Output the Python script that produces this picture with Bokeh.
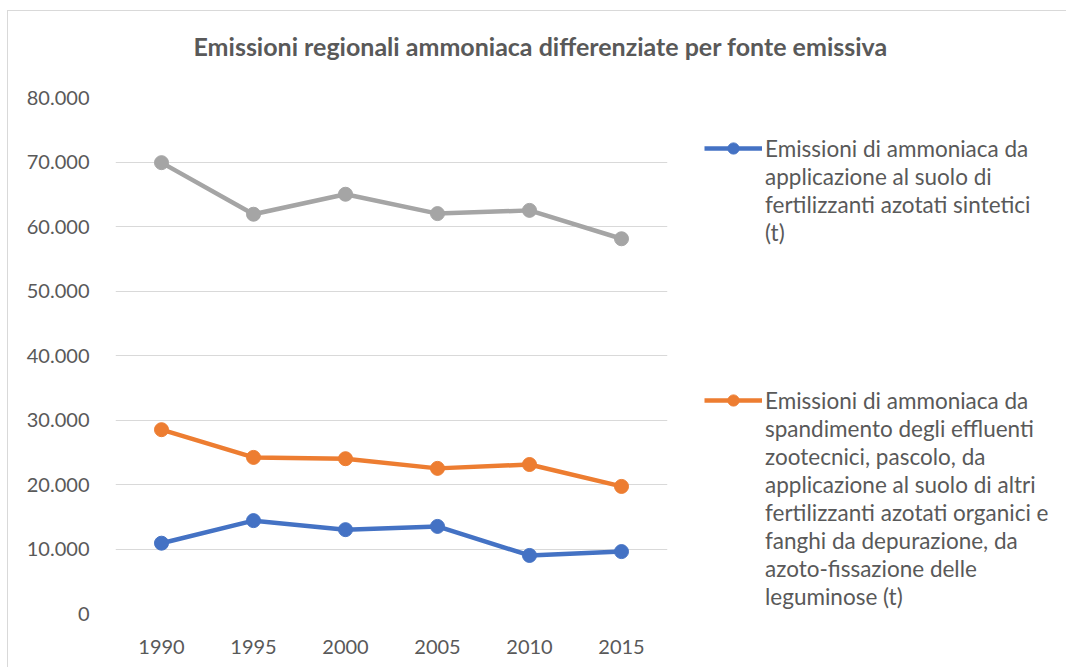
from bokeh.plotting import figure
from bokeh.models import (Range1d, FixedTicker, CustomJSTickFormatter, Legend, LegendItem, Title)
from bokeh.embed import file_html
from bokeh.resources import INLINE

years = ["1990", "1995", "2000", "2005", "2010", "2015"]
sintetici = [10900, 14400, 13000, 13500, 9000, 9600]
effluenti = [28500, 24200, 24000, 22500, 23100, 19700]
totale = [69900, 61900, 65000, 62000, 62500, 58100]
label_sintetici = ["Emissioni di ammoniaca da", "applicazione al suolo di",
                   "fertilizzanti azotati sintetici", "(t)"]
label_effluenti = ["Emissioni di ammoniaca da", "spandimento degli effluenti",
                   "zootecnici, pascolo, da", "applicazione al suolo di altri",
                   "fertilizzanti azotati organici e", "fanghi da depurazione, da",
                   "azoto-fissazione delle", "leguminose (t)"]
y_ticks = [0, 10000, 20000, 30000, 40000, 50000, 60000, 70000, 80000]

FONT = "Lato"
TXT = "#595959"

p = figure(x_range=years, y_range=Range1d(0, 80000), frame_width=552, frame_height=516,
           output_backend="svg", toolbar_location=None,
           min_border_left=107, min_border_right=0, min_border_top=86, min_border_bottom=54,
           margin=(10, 0, 0, 7))
spacer = Title(text=" ", text_font_size="1px", standoff=34)
p.add_layout(spacer, "above")
t = Title(text="Emissioni regionali ammoniaca differenziate per fonte emissiva", align="left",
          offset=78, text_font=FONT, text_font_size="25px", text_font_style="bold",
          text_color=TXT, standoff=0)
p.add_layout(t, "above")

p.outline_line_color = None
p.xgrid.grid_line_color = None
p.ygrid.grid_line_color = "#d9d9d9"
p.ygrid.grid_line_width = 1
p.yaxis.ticker = FixedTicker(ticks=y_ticks)
p.yaxis.formatter = CustomJSTickFormatter(code="""
return tick.toFixed(0).replace(/\\B(?=(\\d{3})+(?!\\d))/g, ".");
""")
for ax in (p.xaxis[0], p.yaxis[0]):
    ax.axis_line_color = None
    ax.major_tick_line_color = None
    ax.minor_tick_line_color = None
    ax.major_label_text_font = FONT
    ax.major_label_text_font_size = "20px"
    ax.major_label_text_color = TXT
p.yaxis.major_label_standoff = 20
p.xaxis.major_label_standoff = 20

colors = {"s": "#4472C4", "e": "#ED7D31", "t": "#A5A5A5"}
lw = 4.5
sz = 14
r_t = p.line(years, totale, line_color=colors["t"], line_width=lw)
c_t = p.scatter(years, totale, size=sz, fill_color=colors["t"], line_color=colors["t"])
r_e = p.line(years, effluenti, line_color=colors["e"], line_width=lw)
c_e = p.scatter(years, effluenti, size=sz, fill_color=colors["e"], line_color=colors["e"])
r_s = p.line(years, sintetici, line_color=colors["s"], line_width=lw)
c_s = p.scatter(years, sintetici, size=sz, fill_color=colors["s"], line_color=colors["s"])
dummy = p.line(x=[], y=[], line_alpha=0)

items = [LegendItem(label=label_sintetici[0], renderers=[r_s, c_s])]
items += [LegendItem(label=ln, renderers=[dummy]) for ln in label_sintetici[1:]]
items += [LegendItem(label=" " * (k + 1), renderers=[dummy]) for k in range(5)]
items += [LegendItem(label=label_effluenti[0], renderers=[r_e, c_e])]
items += [LegendItem(label=ln, renderers=[dummy]) for ln in label_effluenti[1:]]

legend = Legend(items=items, location="top_left", margin=37, padding=0, spacing=0,
                glyph_width=58, glyph_height=28, label_height=28, label_standoff=3,
                label_text_font=FONT, label_text_font_size="22.5px", label_text_color=TXT,
                border_line_color=None, background_fill_alpha=0)
p.add_layout(legend, "right")
p.styles = {"border-left": "1px solid #d9d9d9", "border-top": "1px solid #d9d9d9"}

open("out.html", "w").write(file_html(p, INLINE))
